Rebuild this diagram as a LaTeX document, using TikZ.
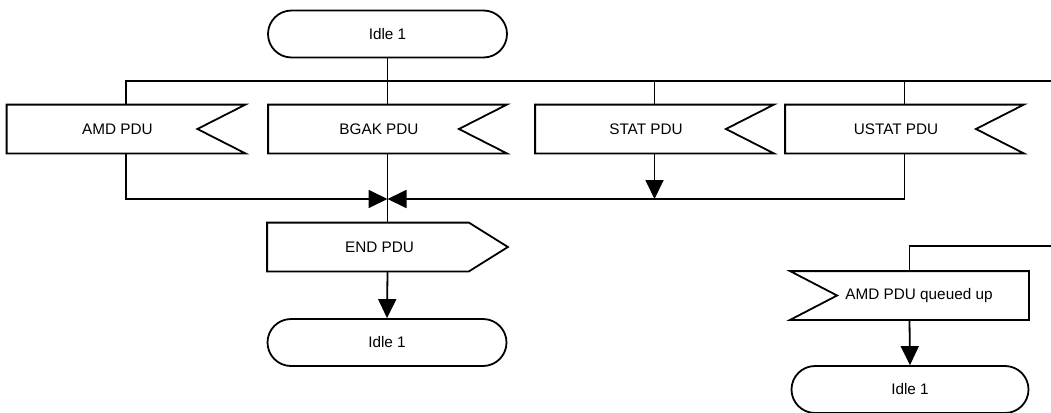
\documentclass[tikz,border=0pt]{standalone}
\usepackage{fontspec}
\setmainfont{Liberation Sans}
\usetikzlibrary{arrows.meta}

\begin{document}
\begin{tikzpicture}[x=1pt,y=-1pt,line width=1.8pt,
  >={Triangle[length=19pt,width=18pt]},
  every node/.style={font=\fontsize{15.3}{18}\selectfont,inner sep=0pt},
  idle/.style={draw,rectangle,rounded corners=23.5pt,minimum width=239pt,minimum height=47pt},
  recv/.style={minimum width=237pt,minimum height=47pt,execute at begin node={\hspace*{-17pt}}},
  recvl/.style={minimum width=237pt,minimum height=47pt,execute at begin node={\hspace*{19pt}}},
  send/.style={minimum width=239pt,minimum height=47pt,execute at begin node={\hspace*{-16pt}}}]
\useasboundingbox (0,0) rectangle (1051,412);
% states
\node[idle] (idletop) at (387.5,34) {Idle 1};
\node[idle] (idleend) at (387,342.5) {Idle 1};
\node[idle,minimum width=237pt] (idleq) at (910,389.5) {Idle 1};
% inputs
\foreach \n/\x/\t in {amd/126/AMD PDU,bgak/387.5/BGAK PDU,stat/654.5/STAT PDU,ustat/904.5/USTAT PDU} {
   \node[recv] (\n) at (\x,129) {\t};
   \draw (\n.north west) -- (\n.north east) -- ([xshift=-48pt]\n.east)
      -- (\n.south east) -- (\n.south west) -- cycle;
}
\node[recvl] (queued) at (909.5,295.5) {AMD PDU queued up};
\draw (queued.north west) -- (queued.north east) -- (queued.south east)
   -- (queued.south west) -- ([xshift=47pt]queued.west) -- cycle;
% output
\node[send] (endpdu) at (387.5,247) {END PDU};
\draw (endpdu.north west) -- ([xshift=-39pt]endpdu.north east) -- (endpdu.east)
   -- ([xshift=-39pt]endpdu.south east) -- (endpdu.south west) -- cycle;
% connectors
\coordinate (busr) at (1051,81);
\coordinate (join) at (387.5,199);
\coordinate (feed) at (1051,246);
\draw (idletop.south) -- (idletop.south |- busr);
\draw (amd.north) |- (busr);
\foreach \n in {bgak,stat,ustat} {
   \draw (\n.north) -- (\n.north |- busr);
}
\draw[->] (amd.south) |- (join);
\draw[->] (ustat.south) |- (join);
\draw[->] (stat.south) -- (stat.south |- join);
\draw (bgak.south) -- (endpdu.north);
\draw[->] (endpdu.south) -- (idleend.north);
\draw (feed) -| (queued.north);
\draw[->] (queued.south) -- (idleq.north);
\end{tikzpicture}
\end{document}
